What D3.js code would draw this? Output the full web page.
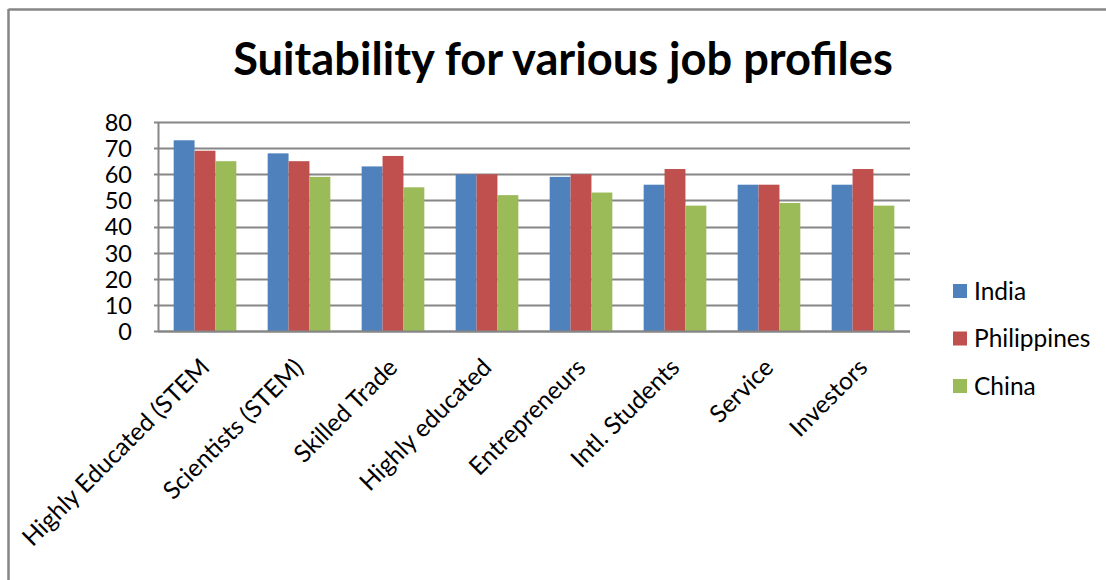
<!DOCTYPE html>
<html>
<head>
<meta charset="utf-8">
<script src="https://cdn.jsdelivr.net/npm/d3@7"></script>
<style>
  html, body { margin: 0; padding: 0; background: #fff; }
  svg { display: block; }
  text { font-family: Lato, "Open Sans", sans-serif; fill: #000; }
</style>
</head>
<body>
<svg id="chart" width="1106" height="580"></svg>
<script>
// Job profile categories along the x axis
const categories = ["Highly Educated (STEM", "Scientists (STEM)", "Skilled Trade", "Highly educated",
                    "Entrepreneurs", "Intl. Students", "Service", "Investors"];
// Suitability scores per country
const seriesNames = ["India", "Philippines", "China"];
const india       = [73, 68, 63, 60, 59, 56, 56, 56];
const philippines = [69, 65, 67, 60, 60, 62, 56, 62];
const china       = [65, 59, 55, 52, 53, 48, 49, 48];
const yTicks = [0, 10, 20, 30, 40, 50, 60, 70, 80];
const colors = ["#4F81BD", "#C0504D", "#9BBB59"];
const title = "Suitability for various job profiles";

const seriesValues = [india, philippines, china];
const svg = d3.select("#chart");
const W = 1106, H = 580;
const margin = { left: 158, right: 196, top: 122, bottom: 249 };
const plotW = W - margin.left - margin.right;
const plotH = H - margin.top - margin.bottom;

// chart frame: top and left edges
svg.append("line").attr("x1", 8.5).attr("x2", W).attr("y1", 9.5).attr("y2", 9.5)
  .attr("stroke", "#868686").attr("stroke-width", 2.5);
svg.append("line").attr("x1", 8.5).attr("x2", 8.5).attr("y1", 9).attr("y2", H)
  .attr("stroke", "#868686").attr("stroke-width", 2.5);

// title, fitted to its width
const t = svg.append("text").attr("x", 563).attr("y", 75)
  .attr("text-anchor", "middle").attr("font-weight", "bold").attr("font-size", 40)
  .text(title);
const tw = t.node().getComputedTextLength();
t.attr("font-size", 40 * 660 / tw);

const g = svg.append("g").attr("transform", `translate(${margin.left},${margin.top})`);

const x0 = d3.scaleBand().domain(categories).range([0, plotW]).paddingInner(1.5 / 4.5).paddingOuter(0.75 / 4.5);
const x1 = d3.scaleBand().domain(seriesNames).range([0, x0.bandwidth()]);
const y = d3.scaleLinear().domain([0, 80]).range([plotH, 0]);

// horizontal gridlines
g.append("g").selectAll("line").data(yTicks).join("line")
  .attr("x1", -4).attr("x2", plotW)
  .attr("y1", d => Math.round(y(d)) + 0.5).attr("y2", d => Math.round(y(d)) + 0.5)
  .attr("stroke", "#868686").attr("stroke-width", 2);

// bars
const groups = g.append("g").selectAll("g").data(categories).join("g")
  .attr("transform", d => `translate(${x0(d)},0)`);
groups.selectAll("rect")
  .data((c, i) => seriesNames.map((s, k) => ({ s, v: seriesValues[k][i], k })))
  .join("rect")
  .attr("x", d => x1(d.s)).attr("width", x1.bandwidth())
  .attr("y", d => y(d.v)).attr("height", d => plotH - y(d.v))
  .attr("fill", d => colors[d.k]);

// axes lines
g.append("line").attr("x1", 0.5).attr("x2", 0.5).attr("y1", 0).attr("y2", plotH + 1)
  .attr("stroke", "#868686").attr("stroke-width", 2);
g.append("line").attr("x1", 0).attr("x2", plotW).attr("y1", plotH + 0.5).attr("y2", plotH + 0.5)
  .attr("stroke", "#868686").attr("stroke-width", 2);

// y tick labels
const yAxis = d3.axisLeft(y).tickValues(yTicks).tickSize(0).tickPadding(26);
const ya = g.append("g").call(yAxis);
ya.select(".domain").remove();
ya.selectAll("text").attr("font-size", 23.5).attr("fill", "#000").attr("dy", "0.36em")
  .style("font-family", "Lato, 'Open Sans', sans-serif");

// category labels rotated -45°
g.append("g").selectAll("text").data(categories).join("text")
  .attr("transform", d => `translate(${x0(d) + x0.bandwidth() / 2 + 6},${plotH + 38}) rotate(-45)`)
  .attr("text-anchor", "end").attr("font-size", 24.5)
  .text(d => d);

// legend
const leg = svg.append("g").attr("transform", "translate(953,291)");
seriesNames.forEach((s, i) => {
  const row = leg.append("g").attr("transform", `translate(0,${i * 47.5})`);
  row.append("rect").attr("x", 0).attr("y", -7).attr("width", 14).attr("height", 14).attr("fill", colors[i]);
  row.append("text").attr("x", 21).attr("y", 0).attr("dy", "0.36em").attr("font-size", 24.5).text(s);
});
</script>
</body>
</html>
